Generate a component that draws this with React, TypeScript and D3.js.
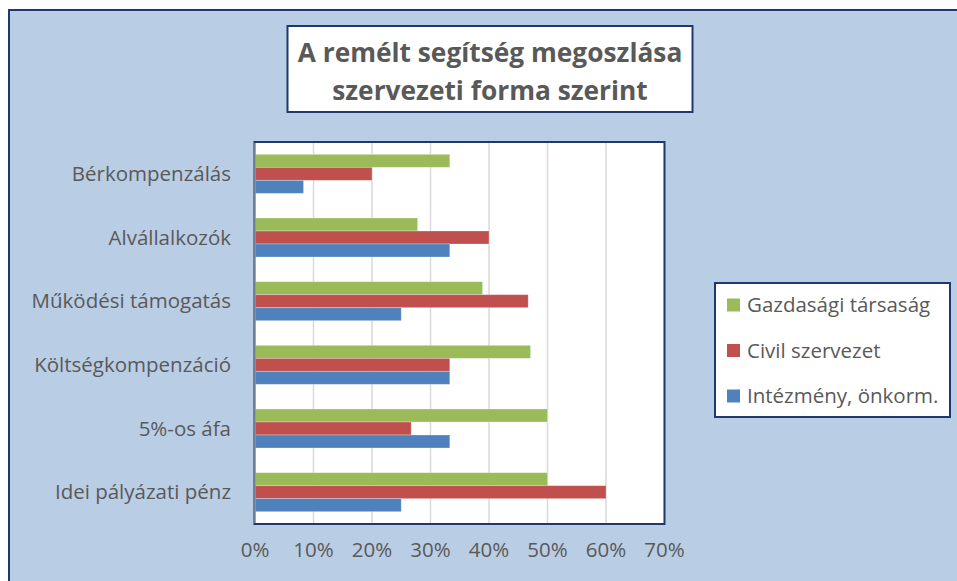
import React from "react";
import * as d3 from "d3";

const categories = [
  "Bérkompenzálás",
  "Alvállalkozók ",
  "Működési támogatás",
  "Költségkompenzáció",
  "5%-os áfa",
  "Idei pályázati pénz",
];
const seriesNames = ["Gazdasági társaság", "Civil szervezet", "Intézmény, önkorm."];
const gazdasagi = [0.333, 0.278, 0.389, 0.471, 0.5, 0.5];
const civil = [0.2, 0.4, 0.467, 0.333, 0.267, 0.6];
const intezmeny = [0.083, 0.333, 0.25, 0.333, 0.333, 0.25];
const xTicks = [0, 0.1, 0.2, 0.3, 0.4, 0.5, 0.6, 0.7];
const colors = ["#9BBB59", "#C0504D", "#4F81BD"];

const W = 957;
const H = 581;
const FONT = "'Open Sans', sans-serif";
const TEXT = "#595959";
const NAVY = "#1F386E";
const FS = 20.5;

export default function App() {
  const series = [gazdasagi, civil, intezmeny];
  const plot = { left: 254.5, right: 664.5, top: 142, bottom: 524 };
  const x = d3.scaleLinear().domain([0, 0.7]).range([plot.left + 0.5, plot.right]);
  const pad = 1 - 39 / ((plot.bottom - plot.top) / categories.length);
  const y = d3
    .scaleBand<string>()
    .domain(categories)
    .range([plot.top, plot.bottom])
    .paddingInner(pad)
    .paddingOuter(pad / 2);
  const sub = d3
    .scaleBand<number>()
    .domain(d3.range(series.length))
    .range([0, y.bandwidth()]);

  return (
    <svg
      width={W}
      height={H}
      style={{ position: "absolute", left: 0, top: 0, display: "block" }}
    >
      <rect x={0} y={0} width={W} height={H} fill="#ffffff" />
      <rect x={9} y={10} width={W + 20} height={H + 20} fill="#B9CDE5" stroke={NAVY} strokeWidth={2} />

      {/* Title */}
      <rect x={287.5} y={26} width={405} height={86} fill="#ffffff" stroke={NAVY} strokeWidth={2} />
      <text
        x={490}
        y={62}
        textAnchor="middle"
        fontFamily={FONT}
        fontWeight={700}
        fontSize={26.3}
        fill={TEXT}
      >
        A remélt segítség megoszlása
      </text>
      <text
        x={490}
        y={100}
        textAnchor="middle"
        fontFamily={FONT}
        fontWeight={700}
        fontSize={26.3}
        fill={TEXT}
      >
        szervezeti forma szerint
      </text>

      {/* Plot area */}
      <rect
        x={plot.left}
        y={plot.top}
        width={plot.right - plot.left}
        height={plot.bottom - plot.top}
        fill="#ffffff"
      />
      {xTicks.map((t) => (
        <line
          key={t}
          x1={x(t)}
          x2={x(t)}
          y1={plot.top}
          y2={plot.bottom}
          stroke="#D9D9D9"
          strokeWidth={1.5}
        />
      ))}
      {categories.map((c, i) =>
        series.map((s, j) => (
          <rect
            key={c + j}
            x={x(0)}
            y={(y(c) as number) + (sub(j) as number)}
            width={x(s[i]) - x(0)}
            height={sub.bandwidth()}
            fill={colors[j]}
            stroke="#ffffff"
            strokeOpacity={0.35}
            strokeWidth={0.8}
          />
        ))
      )}
      <rect
        x={plot.left}
        y={plot.top}
        width={plot.right - plot.left}
        height={plot.bottom - plot.top}
        fill="none"
        stroke={NAVY}
        strokeWidth={2}
      />
      <line x1={x(0)} x2={x(0)} y1={plot.top + 1} y2={plot.bottom - 1} stroke="#BFBFBF" strokeWidth={1} />

      {/* Category labels */}
      {categories.map((c) => (
        <text
          key={c}
          x={231}
          y={(y(c) as number) + y.bandwidth() / 2}
          dy="0.35em"
          textAnchor="end"
          fontFamily={FONT}
          fontSize={FS}
          fill={TEXT}
        >
          {c.trimEnd()}
        </text>
      ))}

      {/* X tick labels */}
      {xTicks.map((t) => (
        <text
          key={t}
          x={x(t)}
          y={550}
          dy="0.35em"
          textAnchor="middle"
          fontFamily={FONT}
          fontSize={FS}
          fill={TEXT}
        >
          {d3.format(".0%")(t)}
        </text>
      ))}

      {/* Legend */}
      <rect x={715} y={283} width={235} height={134} fill="#ffffff" stroke={NAVY} strokeWidth={2} />
      {seriesNames.map((n, j) => (
        <g key={n} transform={`translate(727, ${305 + j * 45.5})`}>
          <rect x={0} y={-6.5} width={13} height={13} fill={colors[j]} />
          <text x={20} y={0} dy="0.35em" fontFamily={FONT} fontSize={FS} fill={TEXT}>
            {n}
          </text>
        </g>
      ))}
    </svg>
  );
}
